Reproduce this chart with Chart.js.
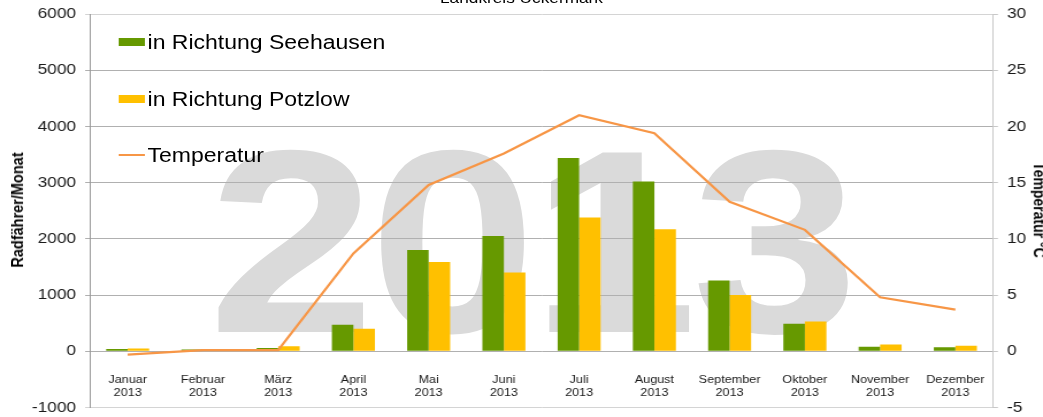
<!DOCTYPE html>
<html>
<head>
<meta charset="utf-8">
<script src="https://cdn.jsdelivr.net/npm/chart.js@4/dist/chart.umd.min.js"></script>
<style>
  html, body { margin: 0; padding: 0; background: #fff; overflow: hidden; }
  body { width: 1043px; height: 417px; position: relative; font-family: 'Liberation Sans', Arial, sans-serif; }
  #wrap { position: absolute; left: 0; top: 0; width: 907px; height: 417px; transform-origin: 0 0; transform: scaleX(1.14994); }
  #wm { position: absolute; left: 181px; top: 111px; font-size: 261px; line-height: 261px; font-weight: bold; color: #dadada; letter-spacing: -5px; white-space: nowrap; z-index: 0; }
  #cv { position: absolute; left: 0; top: 0; z-index: 1; }
  .ov { position: absolute; white-space: nowrap; z-index: 2; color: #000; }
  #title { left: 0; width: 907px; top: -9.7px; text-align: center; font-size: 15px; line-height: 15px; }
  .lg { font-size: 20px; line-height: 20px; left: 128.3px; }
  .sw { position: absolute; z-index: 2; left: 102.6px; width: 23.5px; }
  #ytitle { font-size: 14.5px; font-weight: bold; line-height: 16px; left: 14.8px; top: 210px; transform: translate(-50%, -50%) rotate(-90deg); }
  #y2title { font-size: 14px; font-weight: bold; line-height: 16px; left: 903.5px; top: 210px; transform: translate(-50%, -50%) rotate(90deg); }
</style>
</head>
<body>
<div id="wrap">
  <div id="wm">2013</div>
  <canvas id="cv" width="907" height="417"></canvas>
  <div class="ov" id="title">Landkreis Uckermark</div>
  <div class="sw" style="top:38px;height:8px;background:#669900"></div>
  <div class="ov lg" style="top:32px">in Richtung Seehausen</div>
  <div class="sw" style="top:95px;height:8px;background:#FFC000"></div>
  <div class="ov lg" style="top:88.6px">in Richtung Potzlow</div>
  <div class="sw" style="top:154px;height:2px;background:#F79646"></div>
  <div class="ov lg" style="top:145.3px">Temperatur</div>
  <div class="ov" id="ytitle">Radfährer/Monat</div>
  <div class="ov" id="y2title">Temperatur °C</div>
</div>
<script>
const monthNames = ['Januar','Februar','März','April','Mai','Juni','Juli','August','September','Oktober','November','Dezember'];
const yearLabel = '2013';
const seehausen = [40, 30, 60, 470, 1800, 2050, 3440, 3020, 1260, 490, 80, 70];
const potzlow = [50, 40, 90, 400, 1590, 1400, 2380, 2170, 1000, 530, 120, 100];
const temperatur = [-0.3, 0.1, 0.1, 8.7, 14.8, 17.6, 21.0, 19.4, 13.3, 10.8, 4.8, 3.7];
const leftTicks = [-1000, 0, 1000, 2000, 3000, 4000, 5000, 6000];
const rightTicks = [-5, 0, 5, 10, 15, 20, 25, 30];

Chart.defaults.font.family = "'Liberation Sans', Arial, sans-serif";
Chart.defaults.color = '#1a1a1a';

const labels = monthNames.map(m => [m, yearLabel]);

new Chart(document.getElementById('cv'), {
  type: 'bar',
  data: {
    labels: labels,
    datasets: [
      { type: 'line', label: 'Temperatur', data: temperatur, yAxisID: 'y2', borderColor: '#F79646', backgroundColor: '#F79646', borderWidth: 2.2, pointRadius: 0, tension: 0, order: 0 },
      { label: 'in Richtung Seehausen', data: seehausen, yAxisID: 'y', backgroundColor: '#669900', categoryPercentage: 0.572, barPercentage: 1, order: 1 },
      { label: 'in Richtung Potzlow', data: potzlow, yAxisID: 'y', backgroundColor: '#FFC000', categoryPercentage: 0.572, barPercentage: 1, order: 1 }
    ]
  },
  options: {
    responsive: false,
    animation: false,
    devicePixelRatio: 1,
    layout: { padding: { left: 0, right: 0, top: 14, bottom: 9.5 } },
    plugins: { legend: { display: false }, tooltip: { enabled: false }, title: { display: false } },
    scales: {
      x: {
        type: 'category',
        position: { y: 0 },
        grid: { display: false, drawTicks: false },
        border: { display: false },
        ticks: { font: { size: 11 }, padding: 22, maxRotation: 0, autoSkip: false, color: '#1a1a1a' }
      },
      y: {
        position: 'left',
        min: -1000, max: 6000,
        afterBuildTicks: s => { s.ticks = leftTicks.map(v => ({ value: v })); },
        afterFit: s => { s.width = 78.3; s.paddingTop = 0; s.paddingBottom = 0; },
        grid: {
          color: c => (c.tick && (c.tick.value === 6000 || c.tick.value === -1000)) ? '#d4d4d4' : '#b0b0b0',
          tickLength: 4.3, lineWidth: 1
        },
        border: { color: '#999999', width: 1 },
        ticks: { font: { size: 15 }, padding: 7.9, color: '#1a1a1a', callback: v => String(v) }
      },
      y2: {
        position: 'right',
        min: -5, max: 30,
        afterBuildTicks: s => { s.ticks = rightTicks.map(v => ({ value: v })); },
        afterFit: s => { s.width = 43.5; s.paddingTop = 0; s.paddingBottom = 0; },
        grid: { drawOnChartArea: false, color: '#c8c8c8', tickLength: 4.3 },
        border: { color: '#c8c8c8', width: 1 },
        ticks: { font: { size: 15 }, padding: 7.9, color: '#1a1a1a', callback: v => String(v) }
      }
    }
  }
});
</script>
</body>
</html>
